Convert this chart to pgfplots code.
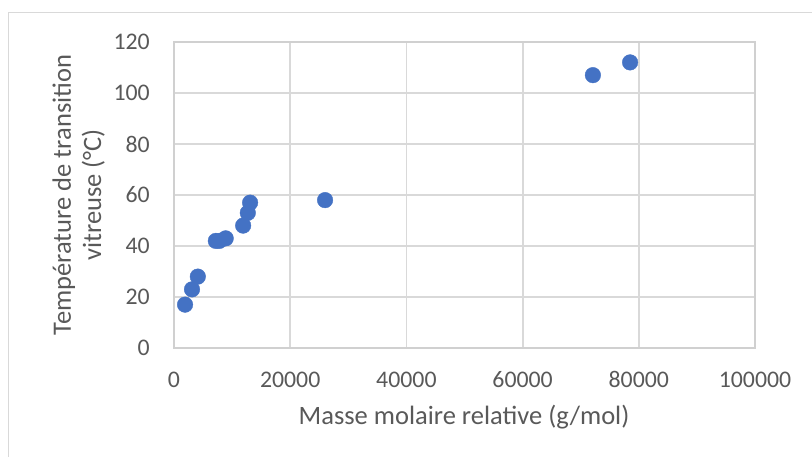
\documentclass[border=0pt]{standalone}
\usepackage{pgfplots}
\pgfplotsset{compat=1.18}
\usepackage{fontspec}
\setmainfont{Carlito}
\definecolor{txt}{HTML}{595959}
\definecolor{grd}{HTML}{D9D9D9}
\definecolor{axl}{HTML}{D0D0D0}
\definecolor{ptc}{HTML}{4472C4}
\begin{document}
\begin{tikzpicture}[x=1pt,y=1pt]
\useasboundingbox (0,0) rectangle (812,456);
\draw[grd, line width=1pt] (8.5,-5) rectangle (820,443.5);
\begin{axis}[
  at={(174pt,108pt)}, anchor=south west,
  scale only axis, width=581pt, height=306pt,
  xmin=0, xmax=100000, ymin=0, ymax=120,
  scaled x ticks=false, scaled y ticks=false,
  xtick={0,20000,40000,60000,80000,100000},
  xticklabels={0,20000,40000,60000,80000,100000},
  ytick={0,20,40,60,80,100,120},
  yticklabels={0,20,40,60,80,100,120},
  grid=major, grid style={draw=grd, line width=1.8pt},
  axis line style={draw=axl, line width=1.8pt},
  major tick length=0pt, tick style={draw=none},
  ticklabel style={font=\fontsize{23.8}{28}\selectfont, text=txt, inner sep=0pt},
  xticklabel style={anchor=base, yshift=-39pt},
  yticklabel style={anchor=east, xshift=-24pt},
  clip=false,
]
\addplot[only marks, mark=*, mark size=7.8pt, mark options={fill=ptc, draw=ptc}] table {
x y
1900 17
3100 23
4100 28
7200 42
7800 42
8900 43
11900 48
12700 53
13100 57
26000 58
72100 107
78500 112
};
\end{axis}
\node[anchor=base, font=\fontsize{26.5}{30}\selectfont, text=txt, inner sep=0pt] at (464,32) {Masse molaire relative (g/mol)};
\node[anchor=base, rotate=90, font=\fontsize{26.5}{30}\selectfont, text=txt, inner sep=0pt] at (71,261) {Température de transition};
\node[anchor=base, rotate=90, font=\fontsize{26.5}{30}\selectfont, text=txt, inner sep=0pt] at (101,261) {vitreuse (°C)};
\end{tikzpicture}
\end{document}
